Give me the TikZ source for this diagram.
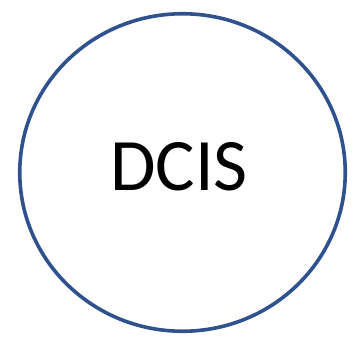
\documentclass[tikz,border=0pt]{standalone}
\usepackage{fontspec}
\setmainfont{Carlito}
\usetikzlibrary{shapes.geometric}
\definecolor{ringblue}{RGB}{47,82,143}

\begin{document}
\begin{tikzpicture}[x=1pt, y=-1pt, every node/.style={font=\rmfamily}]

% Frame
\useasboundingbox (0,0) rectangle (354,337);

% Ring
\node[draw=ringblue, line width=3.6pt, ellipse, inner sep=0pt,
      minimum width=325.5pt, minimum height=317.5pt] (ring) at (182.5,172.5) {};

% Label
\node[font=\fontsize{74}{80}\selectfont, text=black, anchor=base, inner sep=0pt]
  (label) at (179,190) {DCIS};

\end{tikzpicture}
\end{document}
